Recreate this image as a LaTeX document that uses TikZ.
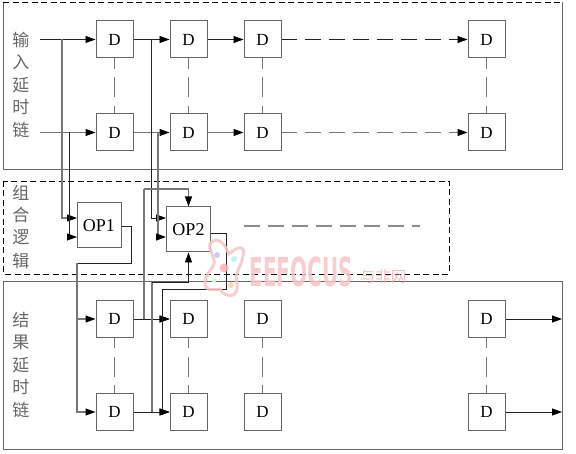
\documentclass[tikz,border=0pt]{standalone}
\usepackage{fontspec}
\setmainfont{Liberation Serif}
\newfontfamily\cjk{Noto Sans CJK SC}
\newfontfamily\wmfont{DejaVu Sans}
\usetikzlibrary{arrows.meta}
\definecolor{wiredark}{HTML}{222222}
\definecolor{wiregray}{HTML}{777777}
\definecolor{boxline}{HTML}{666666}
\definecolor{wm}{HTML}{F6C4C8}
\tikzset{
  x=1pt,y=-1pt,
  wa/.style={draw=wiredark,line width=0.8pt},
  wb/.style={draw=wiregray,line width=1.1pt},
  tip/.style={-{Triangle[length=10pt,width=7pt,black]}},
  dbox/.style={draw=boxline,line width=1pt,fill=white,minimum size=37pt,inner sep=0pt,font=\fontsize{17}{17}\selectfont},
  opbox/.style={draw=boxline,line width=1pt,fill=white,minimum width=44pt,minimum height=45pt,inner sep=0pt,font=\fontsize{18}{18}\selectfont},
  lbl/.style={font=\cjk\fontsize{17}{17}\selectfont,text=black!60,inner sep=0pt},
  vdash/.style={draw=wiregray,line width=0.9pt,dash pattern=on 20pt off 8.5pt,dash phase=9.5pt},
  hdasha/.style={wa,dash pattern=on 16pt off 8pt,dash phase=1pt},
  hdashb/.style={wb,dash pattern=on 16pt off 8pt,dash phase=1pt},
  hdashm/.style={draw=black!45,line width=1.3pt,dash pattern=on 16pt off 8pt},
  frame/.style={draw=boxline,line width=1pt},
  dframe/.style={draw=black,line width=0.8pt,dash pattern=on 6pt off 3.5pt},
  wmark/.style={opacity=0.85}
}
\begin{document}
\begin{tikzpicture}
\useasboundingbox (0,0) rectangle (576,454);
% frames
\coordinate (fa) at (3,2); \coordinate (fb) at (562,2);
\coordinate (fc) at (562,170); \coordinate (fd) at (3,170);
\draw[frame] (fb) -- (fc) -- (fd) -- (fa);
\draw[dframe] (fa) -- (fb);
\coordinate (ma) at (3,181); \coordinate (mb) at (449,274);
\draw[dframe] (ma) rectangle (mb);
\coordinate (ba) at (3,282); \coordinate (bb) at (562,449);
\draw[frame] (ba) rectangle (bb);
% boxes
\node[dbox] (a1) at (114.5,39.5) {D};
\node[dbox] (a2) at (188.5,39.5) {D};
\node[dbox] (a3) at (262.5,39.5) {D};
\node[dbox] (a4) at (486.5,39.5) {D};
\node[dbox] (b1) at (114.5,132.5) {D};
\node[dbox] (b2) at (188.5,132.5) {D};
\node[dbox] (b3) at (262.5,132.5) {D};
\node[dbox] (b4) at (486.5,132.5) {D};
\node[dbox] (c1) at (114.5,319) {D};
\node[dbox] (c2) at (188.5,319) {D};
\node[dbox] (c3) at (262.5,319) {D};
\node[dbox] (c4) at (486.5,319) {D};
\node[dbox] (d1) at (114.5,412) {D};
\node[dbox] (d2) at (188.5,412) {D};
\node[dbox] (d3) at (262.5,412) {D};
\node[dbox] (d4) at (486.5,412) {D};
\node[opbox] (op1) at (99,225.5) {OP1};
\node[opbox] (op2) at (188.5,229.5) {OP2};
% vertical links
\foreach \n in {1,2,3,4}{
  \draw[vdash] (a\n.south) -- (b\n.north);
  \draw[vdash] (c\n.south) -- (d\n.north);
}
% dashed continuation
\draw[hdasha,tip] (a3.east) -- (a4.west);
\draw[hdashb,tip] (b3.east) -- (b4.west);
\coordinate (ms) at (244,226); \coordinate (me) at (420,226);
\draw[hdashm] (ms) -- (me);
% input chain
\coordinate (ia) at (40,39.5); \coordinate (ib) at (40,132.5);
\draw[wa,tip] (ia) -- (a1.west);
\draw[wb,tip] (ib) -- (b1.west);
\draw[wa,tip] (a1.east) -- (a2.west);
\draw[wb,tip] (b1.east) -- (b2.west);
\draw[wa,tip] (a2.east) -- (a3.west);
\draw[wb,tip] (b2.east) -- (b3.west);
% to OP1 and OP2
\coordinate (op1i) at (77,218); \coordinate (op1j) at (77,237);
\coordinate (op2i) at (166,218); \coordinate (op2j) at (166,237);
\coordinate (j1) at (62,39.5); \coordinate (j2) at (69,132.5);
\coordinate (j3) at (151,39.5); \coordinate (j4) at (158,132.5);
\draw[wb,tip] (j1) |- (op1i);
\draw[wa,tip] (j2) |- (op1j);
\draw[wa,tip] (j3) |- (op2i);
\draw[wb,tip] (j4) |- (op2j);
% OP1 output
\coordinate (oa) at (131,226); \coordinate (ob) at (131,263); \coordinate (oc) at (77,263);
\draw[wa] (op1.east |- oa) -- (oa) -- (ob) -- (oc);
\draw[wb,tip] (oc) |- (c1.west);
\draw[wb,tip] (oc) |- (d1.west);
% result chain
\draw[wa,tip] (c1.east) -- (c2.west);
\draw[wa,tip] (d1.east) -- (d2.west);
\coordinate (t1) at (144,319); \coordinate (t2) at (144,189);
\draw[wb] (t1) -- (t2);
\draw[wb,tip] (t2) -| (op2.north);
\coordinate (u1) at (152,412); \coordinate (u2) at (152,282);
\draw[wb] (u1) -- (u2);
\draw[wa,tip] (u2) -| (op2.south);
% OP2 output
\coordinate (va) at (226,233); \coordinate (vb) at (226,289); \coordinate (vc) at (162,289);
\draw[wa] (op2.east |- va) -- (va) -- (vb) -- (vc);
\draw[wa,tip] (vc) |- (c2.west);
\draw[wa,tip] (vc) |- (d2.west);
% outputs
\coordinate (x1) at (562,319); \coordinate (x2) at (562,412);
\draw[wa,tip] (c4.east) -- (x1);
\draw[wa,tip] (d4.east) -- (x2);
% labels
\node[lbl] (l1) at (21,40) {输}; \node[lbl] (l2) at (21,62) {入}; \node[lbl] (l3) at (21,85) {延}; \node[lbl] (l4) at (21,107) {时}; \node[lbl] (l5) at (21,130) {链};
\node[lbl] (m1) at (21,193) {组}; \node[lbl] (m2) at (21,215) {合}; \node[lbl] (m3) at (21,237) {逻}; \node[lbl] (m4) at (21,261) {辑};
\node[lbl] (n1) at (21,320) {结}; \node[lbl] (n2) at (21,342) {果}; \node[lbl] (n3) at (21,365) {延}; \node[lbl] (n4) at (21,387) {时}; \node[lbl] (n5) at (21,410) {链};
% watermark
\begin{scope}[wmark]
\node[font=\wmfont\bfseries\fontsize{40}{40}\selectfont,text=wm,inner sep=0pt,xscale=0.5] (wmtext) at (301,272) {EEFOCUS};
\node[font=\cjk\fontsize{15.5}{15.5}\selectfont,text=wm!90!red,inner sep=0pt] (wmcn) at (383,277) {与非网};
\draw[wm,line width=3pt] (213,241) .. controls (222,238) and (226,248) .. (229,254) .. controls (236,247) and (246,244) .. (243,256) .. controls (241,268) and (234,272) .. (237,284) .. controls (239,298) and (226,299) .. (220,289) .. controls (214,290) and (205,292) .. (205,283) .. controls (205,272) and (216,268) .. (214,260) .. controls (212,252) and (206,245) .. (213,241) -- cycle;
\fill[blue!25] (217,255) circle (3pt);
\fill[cyan!25] (234,259) circle (3pt);
\fill[red!30] (224,268) circle (4.5pt);
\fill[green!20] (214,280) circle (2.5pt);
\fill[orange!35] (231,285) circle (3pt);
\end{scope}
\end{tikzpicture}
\end{document}
